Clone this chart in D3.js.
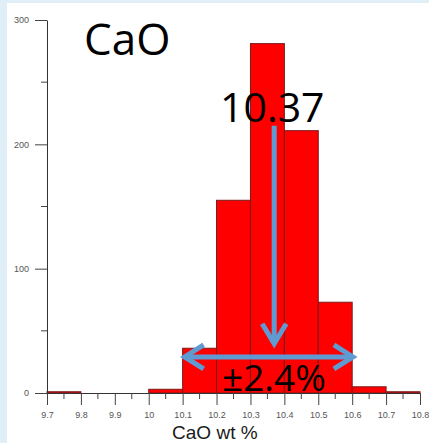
<!DOCTYPE html>
<html>
<head>
<meta charset="utf-8">
<script src="https://cdn.jsdelivr.net/npm/d3@7"></script>
<style>
  html, body { margin: 0; padding: 0; background: #e0eef8; }
  svg { display: block; }
</style>
</head>
<body>
<svg id="chart"></svg>
<script>
// histogram bins (left edge) and counts
const binStarts = [9.7, 9.8, 9.9, 10.0, 10.1, 10.2, 10.3, 10.4, 10.5, 10.6, 10.7];
const counts = [1, 0, 0, 3, 36, 155, 281, 211, 73, 5, 1];
const binWidth = 0.1;

const xTicks = [9.7, 9.8, 9.9, 10, 10.1, 10.2, 10.3, 10.4, 10.5, 10.6, 10.7, 10.8];
const yTicks = [0, 100, 200, 300];

const meanValue = 10.37;
const spreadLo = 10.1, spreadHi = 10.608;

const width = 429, height = 443;

const svg = d3.select("#chart").attr("width", width).attr("height", height);

svg.append("rect")
    .attr("x", 7).attr("y", 3)
    .attr("width", width - 7).attr("height", height - 3)
    .attr("fill", "#fff");

const x = d3.scaleLinear().domain([9.7, 10.8]).range([47, 420]);
const y = d3.scaleLinear().domain([0, 300]).range([393, 20]);

// bars
svg.append("g").selectAll("rect")
    .data(binStarts.map((b, i) => ({ b, c: counts[i] })).filter(d => d.c > 0))
    .enter()
    .append("rect")
    .attr("x", d => x(d.b))
    .attr("y", d => y(d.c))
    .attr("width", d => x(d.b + binWidth) - x(d.b))
    .attr("height", d => y(0) - y(d.c))
    .style("fill", "#ff0000")
    .style("stroke", "#7a1a1a")
    .style("stroke-width", 1);

// x axis
const fmt = d => String(+d.toFixed(1));
const xAxis = svg.append("g").attr("transform", `translate(0,${y(0)})`)
    .call(d3.axisBottom(x).tickValues(xTicks).tickSize(12).tickSizeOuter(0).tickFormat(fmt));
const xMinor = d3.range(0, 11).map(i => 9.75 + i * 0.1);
xAxis.selectAll(".minor").data(xMinor).enter().append("line")
    .attr("class", "minor")
    .attr("x1", d => x(d)).attr("x2", d => x(d))
    .attr("y1", 0).attr("y2", 6)
    .attr("stroke", "#444");

// y axis
const yAxis = svg.append("g").attr("transform", `translate(${x(9.7)},0)`)
    .call(d3.axisLeft(y).tickValues(yTicks).tickSize(12).tickSizeOuter(0).tickPadding(6));
yAxis.selectAll(".minor").data([50, 150, 250]).enter().append("line")
    .attr("class", "minor")
    .attr("y1", d => y(d)).attr("y2", d => y(d))
    .attr("x1", 0).attr("x2", -6)
    .attr("stroke", "#444");

[xAxis, yAxis].forEach(a => {
    a.select(".domain").attr("stroke", "#333");
    a.selectAll(".tick line").attr("stroke", "#444");
    a.selectAll(".tick text")
        .style("font-family", "Liberation Sans, Arial, sans-serif")
        .style("font-size", "9px")
        .attr("fill", "#555");
});
xAxis.selectAll(".tick text").attr("y", 19);

svg.append("text")
    .attr("x", x(10.195)).attr("y", 439)
    .attr("text-anchor", "middle")
    .style("font-family", "Liberation Sans, Arial, sans-serif")
    .style("font-size", "19px")
    .attr("fill", "#1a1a1a")
    .text("CaO wt %");

// annotations
const bigFont = "'Open Sans', 'Noto Sans', sans-serif";
svg.append("text").attr("x", 84).attr("y", 55)
    .style("font-family", bigFont).style("font-size", "44px").attr("fill", "#000")
    .text("CaO");

const blue = "#5f9bd3";
const ann = svg.append("g").attr("fill", "none").attr("stroke", blue)
    .attr("stroke-width", 5).attr("stroke-linejoin", "miter");

const mx = x(meanValue);
const vTop = y(215), vTip = y(38);
ann.append("line").attr("x1", mx).attr("x2", mx).attr("y1", vTop).attr("y2", vTip - 3);
ann.append("path").attr("d", `M${mx - 12},${vTip - 22}L${mx},${vTip - 2}L${mx + 12},${vTip - 22}`);

const hy = y(29);
const xl = x(spreadLo), xr = x(spreadHi);
ann.append("line").attr("x1", xl + 3).attr("x2", xr - 3).attr("y1", hy).attr("y2", hy);
ann.append("path").attr("d", `M${xl + 21},${hy - 12}L${xl + 2},${hy}L${xl + 21},${hy + 12}`);
ann.append("path").attr("d", `M${xr - 21},${hy - 12}L${xr - 2},${hy}L${xr - 21},${hy + 12}`);

svg.append("text").attr("x", 220).attr("y", 122)
    .style("font-family", bigFont).style("font-size", "41px").attr("fill", "#000")
    .text(String(meanValue));

svg.append("text").attr("x", 222).attr("y", 391)
    .style("font-family", bigFont).style("font-size", "37px").attr("fill", "#000")
    .text("±2.4%");
</script>
</body>
</html>
